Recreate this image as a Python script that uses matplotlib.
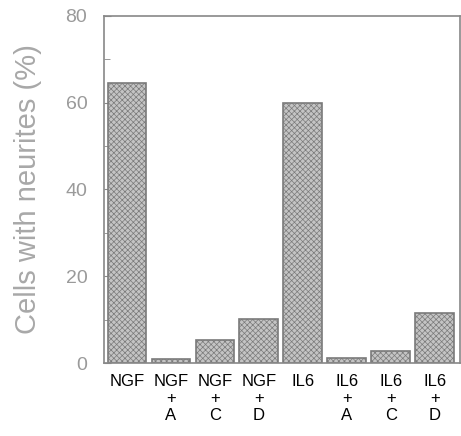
import matplotlib.pyplot as plt
import numpy as np

plt.rcParams['font.family'] = ['Liberation Sans', 'DejaVu Sans']
plt.rcParams['hatch.color'] = "#a8a8a8"
plt.rcParams['hatch.linewidth'] = 0.5

categories = ["NGF", "NGF\n+\nA", "NGF\n+\nC", "NGF\n+\nD",
              "IL6", "IL6\n+\nA", "IL6\n+\nC", "IL6\n+\nD"]
values = [64.5, 1.0, 5.3, 10.1, 60.0, 1.2, 2.8, 11.5]
yticks = [0, 20, 40, 60, 80]

fig = plt.figure(figsize=(4.61, 4.36), dpi=100)
ax = fig.add_axes([0.2256, 0.1674, 0.772, 0.796])

x = np.arange(len(categories))
ax.bar(x, values, width=0.88, color="#c4c4c4", edgecolor="#7a7a7a",
       linewidth=1.2, hatch="xxxxxx", zorder=2)

ax.set_xlim(-0.52, 7.57)
ax.set_ylim(0, 80)
ax.set_yticks(yticks)
ax.set_yticks(np.arange(0, 81, 10), minor=True)
ax.tick_params(axis="y", which="both", direction="in", color="#888888",
               labelcolor="#9a9a9a", labelsize=14, pad=12)
ax.tick_params(axis="y", which="major", length=5)
ax.tick_params(axis="y", which="minor", length=4)
ax.set_xticks(x)
ax.set_xticklabels(categories, fontsize=12, linespacing=1.15)
ax.tick_params(axis="x", length=0, pad=8)

for s in ax.spines.values():
    s.set_color("#888888")
    s.set_linewidth(1.2)

ax.set_ylabel("Cells with neurites (%)", fontsize=21, color="#a8a8a8",
              labelpad=17)

fig.savefig("out.png", dpi=100)
